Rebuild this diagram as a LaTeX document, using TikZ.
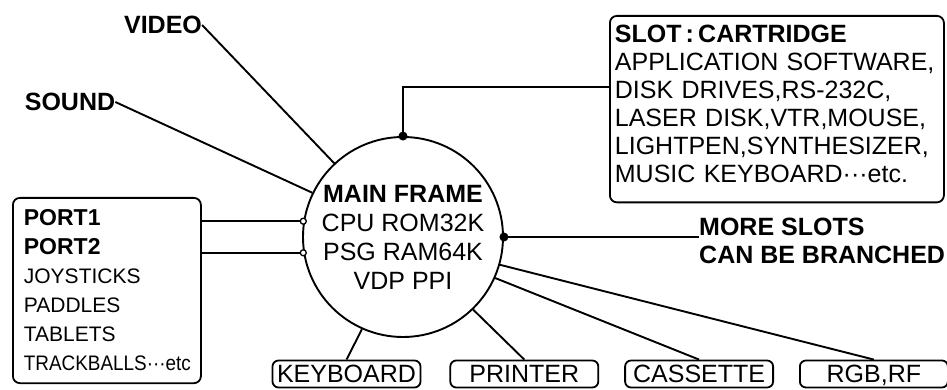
\documentclass[tikz,border=0pt]{standalone}
\usepackage{fontspec}
\setmainfont{Liberation Sans}
\usepackage{tikz}
\usetikzlibrary{positioning,calc}
\tikzset{
	link/.style={line width=1.9pt},
	jack/.style={draw, line width=1.3pt, fill=white},
	tag/.style={font=\fontsize{25}{28}\selectfont\bfseries, inner sep=0pt}
}

\begin{document}
\begin{tikzpicture}[x=1pt, y=1pt,
	framebox/.style={draw, line width=1.8pt, rounded corners=7pt, align=left},
	unitbox/.style={draw, line width=1.8pt, rounded corners=6pt,
		minimum width=148pt, minimum height=27pt, inner sep=0pt,
		text depth=0pt, font=\fontsize{25}{28}\selectfont},
	]
	\useasboundingbox (0,0) rectangle (947,390);
	
	%% -- Main frame
	\node[circle, draw, line width=1.9pt, minimum size=200pt, inner sep=0pt] (mf) at (403,153) {};
	\node[align=center, inner sep=0pt, font=\fontsize{25}{29}\selectfont] (mftext) at (mf.center)
	{\textbf{MAIN FRAME}\\CPU\ ROM32K\\PSG\ RAM64K\\VDP PPI};
	
	%% -- Free labels
	\node[tag] (video) at (163,365) {VIDEO};
	\node[tag] (sound) at (70,288) {SOUND};
	\node[tag, align=left, anchor=west] (more) at (699,149) {MORE SLOTS\\CAN BE BRANCHED};
	
	%% -- Slot box
	\node[framebox, anchor=north west, inner xsep=5pt, inner ysep=9pt,
	text width=324pt, font=\fontsize{25}{28}\selectfont] (slot) at (609,375)
	{\textbf{SLOT\,:\,CARTRIDGE}\\APPLICATION SOFTWARE,\\DISK DRIVES,RS-232C,\\
		LASER DISK,VTR,MOUSE,\\LIGHTPEN,SYNTHESIZER,\\MUSIC KEYBOARD···etc.\rule[-11pt]{0pt}{11pt}};
	
	%% -- Port box
	\node[framebox, anchor=north west, inner xsep=11pt, inner ysep=12pt,
	text width=166pt, font=\fontsize{21}{29}\selectfont] (port) at (12,193)
	{{\fontsize{23}{29}\selectfont\bfseries PORT1}\\{\fontsize{23}{29}\selectfont\bfseries PORT2}\\
		JOYSTICKS\\PADDLES\\TABLETS\\\scalebox{0.9}[1]{TRACKBALLS···etc}};
	
	%% -- Peripheral units
	\node[unitbox] (kbd) at (346.5,16) {KEYBOARD};
	\node[unitbox, right=28pt of kbd] (prn) {PRINTER};
	\node[unitbox, right=25pt of prn] (cas) {CASSETTE};
	\node[unitbox, right=25pt of cas] (rgb) {RGB,RF};
	
	%% -- Connectors
	\draw[link] (video.east) -- (mf.133);
	\draw[link] (sound.east) -- (mf.154);
	\draw[link] (mf.north) |- ([yshift=22pt]slot.west);
	\draw[link] (mf.east) -- (mf.east -| more.west);
	\draw[link] (port.east |- mf.171) -- (mf.171);
	\draw[link] (port.east |- mf.189) -- (mf.189);
	\draw[link] (mf.246) -- (kbd.north);
	\draw[link] (mf.314) -- (prn.north);
	\draw[link] (mf.336) -- (cas.north);
	\draw[link] (mf.344) -- (rgb.north);
	
	%% -- Junctions
	\fill (mf.north) circle (4.5pt);
	\fill (mf.east) circle (4.5pt);
	\draw[jack] (mf.171) circle (3pt);
	\draw[jack] (mf.189) circle (3pt);
	
\end{tikzpicture}
\end{document}
